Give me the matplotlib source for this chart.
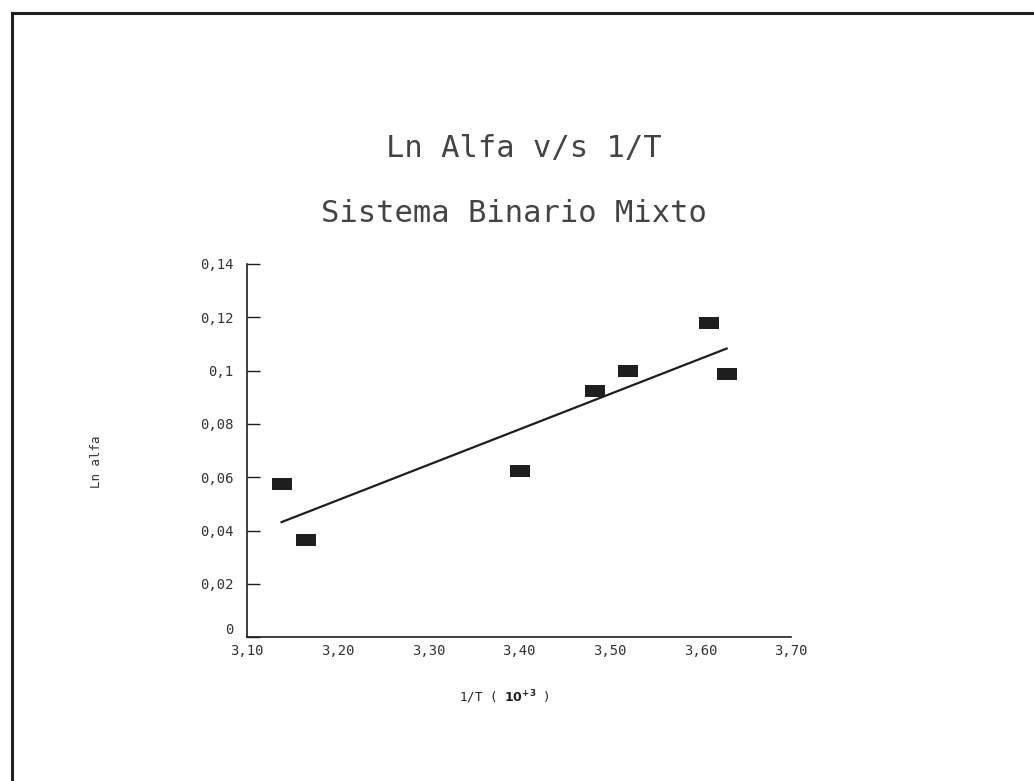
import numpy as np
import matplotlib
matplotlib.use("Agg")
import matplotlib.pyplot as plt
from matplotlib.lines import Line2D
from matplotlib.transforms import ScaledTranslation

# data
inv_t = [3.138, 3.165, 3.401, 3.484, 3.520, 3.610, 3.629]
ln_alfa = [0.0576, 0.0363, 0.0624, 0.0924, 0.0998, 0.1178, 0.0987]

x_ticks = [3.10, 3.20, 3.30, 3.40, 3.50, 3.60, 3.70]
x_labels = ["3,10", "3,20", "3,30", "3,40", "3,50", "3,60", "3,70"]
y_ticks = [0, 0.02, 0.04, 0.06, 0.08, 0.10, 0.12, 0.14]
y_labels = ["0", "0,02", "0,04", "0,06", "0,08", "0,1", "0,12", "0,14"]

plt.rcParams['font.family'] = ['DejaVu Sans Mono', 'DejaVu Sans']
ink = "#1e1e1e"

fig = plt.figure(figsize=(10.34, 7.81), dpi=100)
ax = fig.add_axes([0.239, 0.184, 0.526, 0.478])

# regression line through the points
coef = np.polyfit(inv_t, ln_alfa, 1)
xl = np.array([min(inv_t), max(inv_t)])
ax.plot(xl, np.polyval(coef, xl), color=ink, lw=1.6)

rect = [(-1, -0.65), (1, -0.65), (1, 0.65), (-1, 0.65), (-1, -0.65)]
ax.plot(inv_t, ln_alfa, linestyle="none", marker=rect, markersize=14,
        color=ink, markeredgewidth=0)

ax.set_xlim(3.10, 3.70)
ax.set_ylim(0, 0.14)
ax.set_xticks(x_ticks)
ax.set_xticklabels(x_labels, fontsize=10, color="#333333")
ax.set_yticks(y_ticks)
ax.set_yticklabels(y_labels, fontsize=10, color="#333333")
ax.tick_params(axis="x", length=0, pad=5)
ax.tick_params(axis="y", direction="in", length=9.5, width=1, color=ink, pad=10)

# the "0" sits a little above the x axis in the original
zero = ax.get_yticklabels()[0]
zero.set_transform(zero.get_transform() + ScaledTranslation(0, 6 / 72, fig.dpi_scale_trans))

for s in ["top", "right"]:
    ax.spines[s].set_visible(False)
for s in ["left", "bottom"]:
    ax.spines[s].set_color(ink)
    ax.spines[s].set_linewidth(1.2)

ax.set_ylabel("Ln alfa", fontsize=9, color="#333333", labelpad=0)
ax.yaxis.set_label_coords(-0.265, 0.47)
fig.text(0.488, 0.107, r"1/T ( $\mathbf{10^{+3}}$ )", fontsize=9,
         color=ink, ha="center", va="center")

fig.text(0.507, 0.81, "Ln Alfa v/s 1/T", fontsize=22, color="#444444",
         ha="center", va="center")
fig.text(0.497, 0.726, "Sistema Binario Mixto", fontsize=22, color="#444444",
         ha="center", va="center")

# page frame
fig.add_artist(Line2D([12 / 1034, 12 / 1034], [0, 1 - 13 / 781],
                      transform=fig.transFigure, color=ink, lw=2.2))
fig.add_artist(Line2D([12 / 1034, 1], [1 - 13 / 781, 1 - 13 / 781],
                      transform=fig.transFigure, color=ink, lw=2.2))

fig.savefig("out.png", dpi=100)
